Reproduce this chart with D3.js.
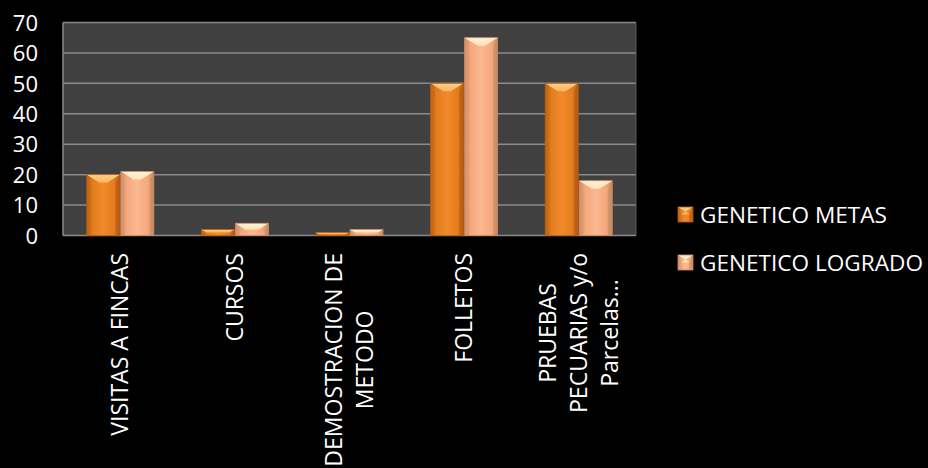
<!DOCTYPE html>
<html><head><meta charset="utf-8">
<script src="https://cdn.jsdelivr.net/npm/d3@7/dist/d3.min.js"></script>
<style>
html,body{margin:0;padding:0;background:#000;}
svg{display:block;}
text{font-family:"Open Sans",sans-serif;fill:#fff;}
</style></head><body>
<svg id="chart" width="928" height="468"></svg>
<script>
const categories = ["VISITAS A FINCAS", "CURSOS", "DEMOSTRACION DE METODO", "FOLLETOS", "PRUEBAS PECUARIAS y/o Parcelas..."];
const categoryLines = [["VISITAS A FINCAS"], ["CURSOS"], ["DEMOSTRACION DE", "METODO"], ["FOLLETOS"], ["PRUEBAS", "PECUARIAS y/o", "Parcelas..."]];
const seriesNames = ["GENETICO METAS", "GENETICO LOGRADO"];
const metas = [20, 2, 1, 50, 50];
const logrado = [21, 4, 2, 65, 18];
const yTicks = [0, 10, 20, 30, 40, 50, 60, 70];

const svg = d3.select("#chart");
const W = 928, H = 468;
svg.append("rect").attr("width", W).attr("height", H).attr("fill", "#000");

const plot = {left: 63, right: 636, top: 22.5, bottom: 235.5};
const x0 = d3.scaleBand().domain(categories).range([plot.left, plot.right]).padding(0);
const bw = x0.bandwidth();
const x1 = d3.scaleBand().domain(seriesNames).range([bw/2 - 33.5, bw/2 + 33.5]).paddingInner(0.03);
const y = d3.scaleLinear().domain([0, 70]).range([plot.bottom, plot.top]);

const defs = svg.append("defs");
const palettes = {
  "GENETICO METAS": {edge: "#b55c12", mid: "#f08a2a", main: "#e57d1f", cap: "#f8b55a", capLight: "#fcd08a", side: "#c96a18"},
  "GENETICO LOGRADO": {edge: "#c98a63", mid: "#fbb890", main: "#f5a87c", cap: "#ffe3b8", capLight: "#fff2d6", side: "#dc9870"}
};
seriesNames.forEach((s, i) => {
  const p = palettes[s];
  const g = defs.append("linearGradient").attr("id", "g" + i).attr("x1", 0).attr("x2", 1).attr("y1", 0).attr("y2", 0);
  g.append("stop").attr("offset", "0%").attr("stop-color", p.edge);
  g.append("stop").attr("offset", "18%").attr("stop-color", p.main);
  g.append("stop").attr("offset", "50%").attr("stop-color", p.mid);
  g.append("stop").attr("offset", "82%").attr("stop-color", p.main);
  g.append("stop").attr("offset", "100%").attr("stop-color", p.edge);
  const c = defs.append("linearGradient").attr("id", "c" + i).attr("x1", 0).attr("x2", 0).attr("y1", 0).attr("y2", 1);
  c.append("stop").attr("offset", "0%").attr("stop-color", p.capLight);
  c.append("stop").attr("offset", "100%").attr("stop-color", p.cap);
});

// plot area
svg.append("rect").attr("x", plot.left).attr("y", plot.top).attr("width", plot.right - plot.left)
  .attr("height", plot.bottom - plot.top).attr("fill", "#404040");

// gridlines
svg.append("g").selectAll("line").data(yTicks).join("line")
  .attr("x1", plot.left).attr("x2", plot.right)
  .attr("y1", d => y(d)).attr("y2", d => y(d))
  .attr("stroke", "#8a8a8a").attr("stroke-width", 1.5);
svg.append("line").attr("x1", plot.left).attr("x2", plot.left).attr("y1", plot.top).attr("y2", plot.bottom)
  .attr("stroke", "#8a8a8a").attr("stroke-width", 1.5);
svg.append("line").attr("x1", plot.right).attr("x2", plot.right).attr("y1", plot.top).attr("y2", plot.bottom)
  .attr("stroke", "#5a5a5a").attr("stroke-width", 1);

// y axis labels
const yAxis = d3.axisLeft(y).tickValues(yTicks).tickSize(0).tickPadding(0).tickFormat(d3.format("d"));
const ya = svg.append("g").attr("transform", `translate(38,0)`).call(yAxis);
ya.select(".domain").remove();
ya.selectAll("text").attr("font-size", 22).attr("font-family", "Open Sans").attr("fill", "#fff").attr("dy", "0.35em");

// bars
const series = [metas, logrado];
function drawBar(g, bx, by, w, h, i) {
  const p = palettes[seriesNames[i]];
  g.append("rect").attr("x", bx).attr("y", by).attr("width", w).attr("height", h).attr("fill", `url(#g${i})`);
  const b = Math.min(8, h / 2);
  g.append("polygon").attr("points", [[bx, by], [bx + b*0.5, by + b], [bx + b*0.5, by + h], [bx, by + h]].join(" "))
    .attr("fill", p.side).attr("opacity", 0.6);
  g.append("polygon").attr("points", [[bx + w, by], [bx + w - b*0.5, by + b], [bx + w - b*0.5, by + h], [bx + w, by + h]].join(" "))
    .attr("fill", p.edge).attr("opacity", 0.6);
  g.append("polygon").attr("points", [[bx, by], [bx + w, by], [bx + w - b*1.6, by + b], [bx + b*1.6, by + b]].join(" "))
    .attr("fill", `url(#c${i})`);
  g.append("rect").attr("x", bx).attr("y", by).attr("width", w).attr("height", h)
    .attr("fill", "none").attr("stroke", p.edge).attr("stroke-width", 0.8);
}
const barsG = svg.append("g");
categories.forEach((c, ci) => {
  seriesNames.forEach((s, si) => {
    const v = series[si][ci];
    const bx = x0(c) + x1(s);
    const by = y(v);
    drawBar(barsG, bx, by, x1.bandwidth(), y(0) - by, si);
  });
});

// x labels (rotated)
const fs = 23, lh = 31;
categories.forEach((c, ci) => {
  const lines = categoryLines[ci];
  const cx = x0(c) + bw / 2;
  const n = lines.length;
  const tmp = svg.append("text").attr("font-size", fs);
  let maxW = 0;
  lines.forEach(l => { tmp.text(l); maxW = Math.max(maxW, tmp.node().getComputedTextLength()); });
  tmp.remove();
  const g = svg.append("g").attr("transform", `translate(${cx},253) rotate(-90)`);
  lines.forEach((l, li) => {
    const off = (li - (n - 1) / 2) * lh;
    g.append("text").attr("x", -maxW / 2).attr("y", off).attr("dy", "0.35em")
      .attr("text-anchor", "middle").attr("font-size", fs).text(l);
  });
});

// legend
const legend = svg.append("g");
seriesNames.forEach((s, i) => {
  const ly = 215 + i * 48;
  drawBar(legend, 678, ly - 8, 15, 15, i);
  legend.append("text").attr("x", 700).attr("y", ly).attr("dy", "0.35em").attr("font-size", 22.6).text(s);
});
</script>
</body></html>
